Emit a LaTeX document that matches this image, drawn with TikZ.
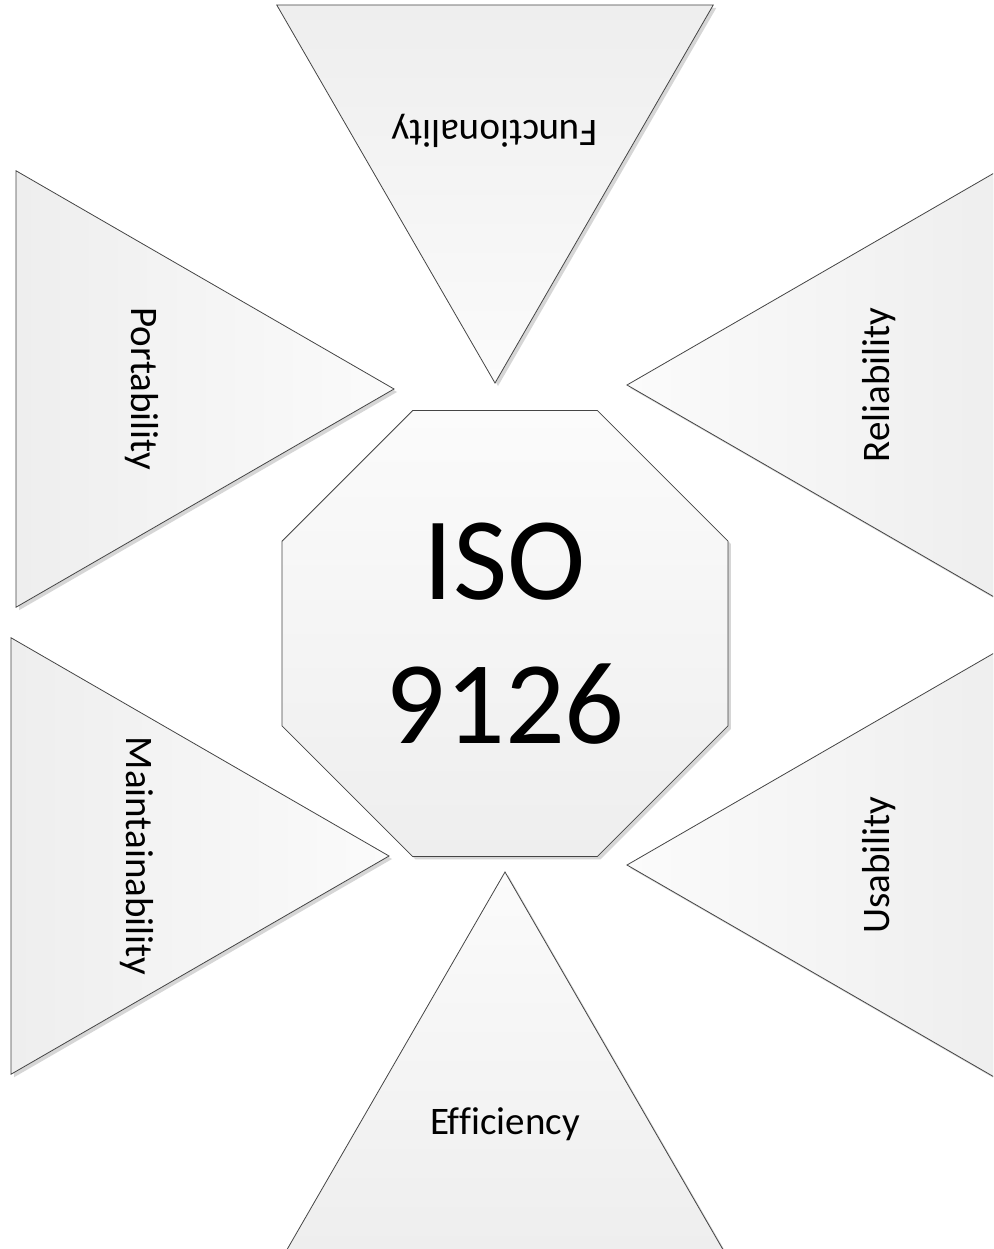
\documentclass[tikz,border=0pt]{standalone}
\usepackage{fontspec}
\setmainfont[Ligatures=NoCommon]{Carlito}
\usepackage{tikz}
\usetikzlibrary{shapes.geometric,shadows}
\definecolor{IsoEdge}{HTML}{454545}
\definecolor{IsoLight}{HTML}{FBFBFB}
\definecolor{IsoDark}{HTML}{EEEEEE}
\definecolor{IsoShade}{HTML}{D6D6D6}
\tikzset{
  facet/.style={regular polygon, regular polygon sides=3, regular polygon rotate=#1,
    minimum size=504pt, inner sep=0pt, outer sep=0pt, draw=IsoEdge, line width=0.8pt,
    top color=IsoLight, bottom color=IsoDark, shading angle=#1,
    drop shadow={shadow xshift=3pt, shadow yshift=-3pt, fill=IsoShade, opacity=1}},
  hub/.style={regular polygon, regular polygon sides=8, minimum size=482.7pt,
    inner sep=0pt, outer sep=0pt, draw=IsoEdge, line width=0.8pt,
    top color=IsoLight, bottom color=IsoDark, align=center,
    font=\fontsize{118pt}{144pt}\selectfont,
    drop shadow={shadow xshift=3pt, shadow yshift=-3pt, fill=IsoShade, opacity=1}},
  facetlabel/.style={inner sep=0pt, font=\fontsize{39pt}{47pt}\selectfont}
}
\begin{document}
\begin{tikzpicture}[x=1pt, y=-1pt]
  \path[use as bounding box, fill=white] (0,0) rectangle (993,1249);
  \clip (0,0) rectangle (993,1249);
  % the six characteristics round the standard
  \node[facet=180] (functionality) at (495,131) {};
  \node[facetlabel, rotate=180] (functionalitytext) at (functionality.center) {Functionality};
  \node[facet=-90] (portability) at (142,389) {};
  \node[facetlabel, rotate=-90] (portabilitytext) at (portability.center) {Portability};
  \node[facet=90] (reliability) at (879,385) {};
  \node[facetlabel, rotate=90] (reliabilitytext) at (reliability.center) {Reliability};
  \node[facet=-90] (maintainability) at (137,856) {};
  \node[facetlabel, rotate=-90] (maintainabilitytext) at (maintainability.center) {Maintainability};
  \node[facet=90] (usability) at (879,865) {};
  \node[facetlabel, rotate=90] (usabilitytext) at (usability.center) {Usability};
  \node[facet=0] (efficiency) at (505,1124) {};
  \node[facetlabel] (efficiencytext) at (efficiency.center) {Efficiency};
  % centre
  \node[hub] (iso) at (505,633.5) {ISO\\9126};
\end{tikzpicture}
\end{document}
